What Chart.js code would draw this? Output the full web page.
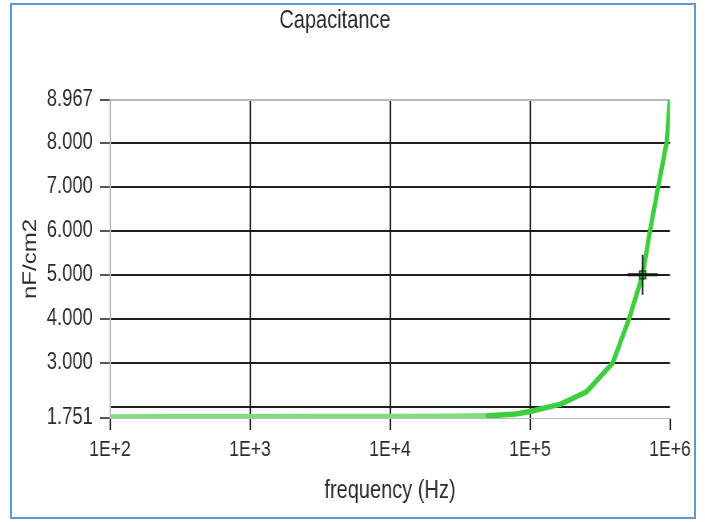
<!DOCTYPE html>
<html>
<head>
<meta charset="utf-8">
<title>Capacitance</title>
<script src="https://cdn.jsdelivr.net/npm/chart.js@4/dist/chart.umd.min.js"></script>
<style>
  html, body { margin: 0; padding: 0; background: #ffffff; overflow: hidden; }
  #page { position: relative; width: 705px; height: 522px; overflow: hidden; }
  /* the graph is drawn on a wider canvas and condensed horizontally */
  #plot {
    position: absolute; left: 0; top: 0; width: 881px; height: 522px;
    transform: scaleX(0.8); transform-origin: 0 0;
  }
  #c { display: block; }
  #frame {
    position: absolute; left: 10px; top: 3px; width: 682px; height: 512px;
    border: 2px solid #5b9bd5; pointer-events: none;
  }
</style>
</head>
<body>
<div id="page">
  <div id="plot"><canvas id="c" width="881" height="522"></canvas></div>
  <div id="frame"></div>
</div>
<script>
// Measured capacitance per unit area versus frequency
const frequencies = [100, 300, 1000, 3000, 10000, 30000, 50000, 79000, 100000, 139000,
                     164000, 203000, 254000, 390000, 510000, 638000, 720000, 824000, 946000, 1000000];
const capacitance = [1.775, 1.778, 1.780, 1.783, 1.786, 1.790, 1.800, 1.840, 1.900, 2.010,
                     2.060, 2.200, 2.350, 3.000, 4.000, 5.000, 6.000, 7.000, 8.000, 8.967];

// Axis ticks
const xTickValues = [1e2, 1e3, 1e4, 1e5, 1e6];
const xTickLabels = ['1E+2', '1E+3', '1E+4', '1E+5', '1E+6'];
const yTickValues = [1.751, 3, 4, 5, 6, 7, 8, 8.967];
const yTickLabels = ['1.751', '3.000', '4.000', '5.000', '6.000', '7.000', '8.000', '8.967'];
const yGridValues = [2, 3, 4, 5, 6, 7, 8];

// Graph cursor position
const cursorFreq = [638000];
const cursorValue = [5.0];

const FAMILY = '"Liberation Sans", Arial, sans-serif';
const TEXT = '#2b2b2b';
const GRID = '#1e1e1e';
const FRAME = '#b9b9b9';

const curvePoints = frequencies.map((f, i) => ({ x: f, y: capacitance[i] }));
const cursorPoints = cursorFreq.map((f, i) => ({ x: f, y: cursorValue[i] }));

const yAllTicks = Array.from(new Set([...yTickValues, ...yGridValues])).sort((a, b) => a - b);

new Chart(document.getElementById('c'), {
  type: 'line',
  data: {
    datasets: [
      {
        // cursor: horizontal bar
        type: 'scatter', data: cursorPoints, order: -3,
        pointStyle: 'line', pointRadius: 18.75, pointBorderWidth: 3,
        pointBorderColor: '#141414', showLine: false
      },
      {
        // cursor: vertical bar
        type: 'scatter', data: cursorPoints, order: -2,
        pointStyle: 'line', pointRotation: 90, pointRadius: 20, pointBorderWidth: 2,
        pointBorderColor: '#141414', showLine: false
      },
      {
        // cursor: centre marker
        type: 'scatter', data: cursorPoints, order: -1,
        pointStyle: 'rect', pointRadius: 5.5, pointBorderWidth: 1.5,
        pointBackgroundColor: '#43c443', pointBorderColor: '#1d5a1d', showLine: false
      },
      {
        label: 'Capacitance',
        data: curvePoints, order: 1,
        borderColor: '#40cf40',
        segment: {
          borderColor: ctx => (ctx.p1.parsed.x <= 50000 ? '#7fdc7f' : '#3ecd3e')
        },
        borderWidth: 5.5, pointRadius: 0, tension: 0, fill: false,
        borderJoinStyle: 'round', borderCapStyle: 'round'
      }
    ]
  },
  options: {
    responsive: false,
    animation: false,
    events: [],
    layout: { padding: { left: 0, right: 43.5, top: 0, bottom: 0 } },
    plugins: {
      legend: { display: false },
      tooltip: { enabled: false },
      title: {
        display: true, text: 'Capacitance', color: TEXT,
        font: { family: FAMILY, size: 25, weight: 'normal' },
        padding: { top: 6, bottom: 64 }
      }
    },
    scales: {
      x: {
        type: 'logarithmic', min: 100, max: 1e6,
        afterBuildTicks: s => { s.ticks = xTickValues.map(v => ({ value: v })); },
        afterFit: s => { s.height = 104; },
        ticks: {
          autoSkip: false, maxRotation: 0, padding: 7, color: TEXT,
          font: { family: FAMILY, size: 22 },
          callback: v => { const i = xTickValues.indexOf(v); return i >= 0 ? xTickLabels[i] : ''; }
        },
        grid: {
          color: ctx => {
            const v = ctx.tick ? ctx.tick.value : null;
            return (v === 1e2 || v === 1e6) ? 'rgba(0,0,0,0)' : GRID;
          },
          lineWidth: 2,
          tickColor: GRID, tickLength: 12, tickWidth: 2
        },
        border: { display: true, color: FRAME, width: 1 },
        title: {
          display: true, text: 'frequency (Hz)', color: TEXT,
          font: { family: FAMILY, size: 25 },
          padding: { top: 0, bottom: 16 }
        }
      },
      y: {
        type: 'linear', min: 1.751, max: 8.967,
        afterBuildTicks: s => { s.ticks = yAllTicks.map(v => ({ value: v })); },
        afterFit: s => { s.width = 137.5; },
        ticks: {
          autoSkip: false, padding: 9, color: TEXT,
          font: { family: FAMILY, size: 23 },
          callback: v => { const i = yTickValues.indexOf(v); return i >= 0 ? yTickLabels[i] : ''; }
        },
        grid: {
          color: ctx => {
            const v = ctx.tick ? ctx.tick.value : null;
            if (v === 8.967) return FRAME;
            return yGridValues.includes(v) ? GRID : 'rgba(0,0,0,0)';
          },
          lineWidth: 2,
          tickColor: ctx => {
            const v = ctx.tick ? ctx.tick.value : null;
            return yTickValues.includes(v) ? GRID : 'rgba(0,0,0,0)';
          },
          tickLength: 12.5, tickWidth: 1.5
        },
        border: { display: true, color: FRAME, width: 2 },
        title: {
          display: true, text: 'nF/cm2', color: TEXT,
          font: { family: FAMILY, size: 24 },
          padding: { top: 24, bottom: 0 }
        }
      }
    }
  }
});
</script>
</body>
</html>
